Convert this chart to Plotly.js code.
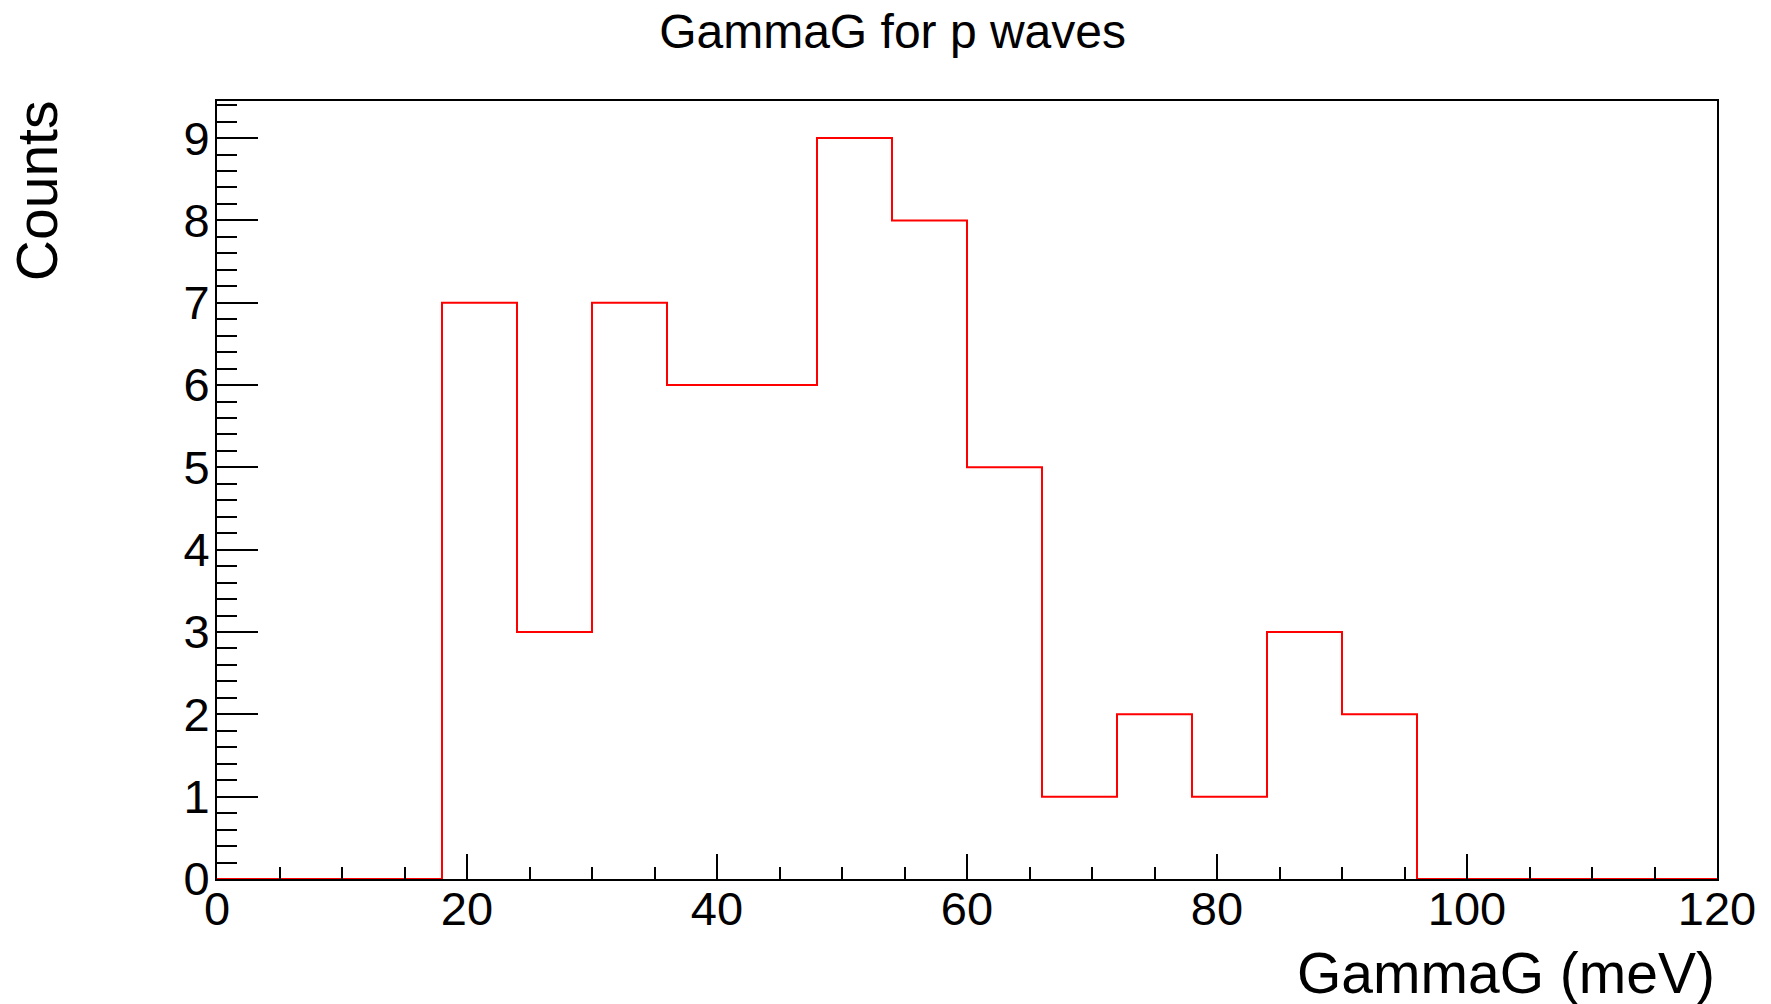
<!DOCTYPE html>
<html>
<head>
<meta charset="utf-8">
<script src="https://cdn.plot.ly/plotly-3.0.1.min.js"></script>
<style>html,body{margin:0;padding:0;background:#fff;}#chart{width:1771px;height:1004px;}</style>
</head>
<body>
<div id="chart"></div>
<script>
// Histogram "GammaG for p waves": 20 bins of width 6 meV from 0 to 120
const binEdges = [0, 6, 12, 18, 24, 30, 36, 42, 48, 54, 60, 66, 72, 78, 84, 90, 96, 102, 108, 114, 120];
const counts   = [0, 0, 0, 7, 3, 7, 6, 6, 9, 8, 5, 1, 2, 1, 3, 2, 0, 0, 0, 0];
const titleText = "GammaG for p waves";
const xTitle = "GammaG (meV)";
const yTitle = "Counts";

// step line: y of each edge = count of the bin starting there; last edge repeats last bin
const stepY = counts.concat([counts[counts.length - 1]]);

const font = "Liberation Sans, Arial, Helvetica, sans-serif";

const trace = {
  type: "scatter",
  mode: "lines",
  x: binEdges,
  y: stepY,
  line: {shape: "hv", color: "#ff0000", width: 2},
  hoverinfo: "x+y",
  showlegend: false
};

const layout = {
  width: 1771,
  height: 1004,
  paper_bgcolor: "#ffffff",
  plot_bgcolor: "#ffffff",
  margin: {l: 217, r: 54, t: 101, b: 125},
  font: {family: font, color: "#000", size: 47},
  title: {text: titleText, font: {family: font, size: 48, color: "#000"}, x: 0.504, xanchor: "center", y: 0.969, yanchor: "middle"},
  xaxis: {
    range: [0, 120],
    showgrid: false, zeroline: false,
    showline: true, linecolor: "#000", linewidth: 2, mirror: true,
    ticks: "inside", ticklen: 25, tickwidth: 2, tickcolor: "#000",
    tick0: 0, dtick: 20,
    minor: {dtick: 5, ticks: "inside", ticklen: 12, tickwidth: 2, tickcolor: "#000", showgrid: false},
    tickfont: {family: font, size: 47, color: "#000"},
    ticklabelstandoff: -12
  },
  yaxis: {
    range: [0, 9.45],
    showgrid: false, zeroline: false,
    showline: true, linecolor: "#000", linewidth: 2, mirror: true,
    ticks: "inside", ticklen: 41, tickwidth: 2, tickcolor: "#000",
    tick0: 0, dtick: 1,
    minor: {dtick: 0.2, ticks: "inside", ticklen: 20, tickwidth: 2, tickcolor: "#000", showgrid: false},
    tickfont: {family: font, size: 47, color: "#000"},
    ticklabelstandoff: -4
  },
  annotations: [
    {text: xTitle, xref: "paper", yref: "paper", x: 1, y: -0.121, xanchor: "right", yanchor: "middle",
     showarrow: false, font: {family: font, size: 57, color: "#000"}},
    {text: yTitle, xref: "paper", yref: "paper", x: -0.12, y: 1.003, xanchor: "center", yanchor: "top",
     textangle: -90, showarrow: false, font: {family: font, size: 57, color: "#000"}}
  ]
};

Plotly.newPlot("chart", [trace], layout, {displayModeBar: false, staticPlot: true});
</script>
</body>
</html>
